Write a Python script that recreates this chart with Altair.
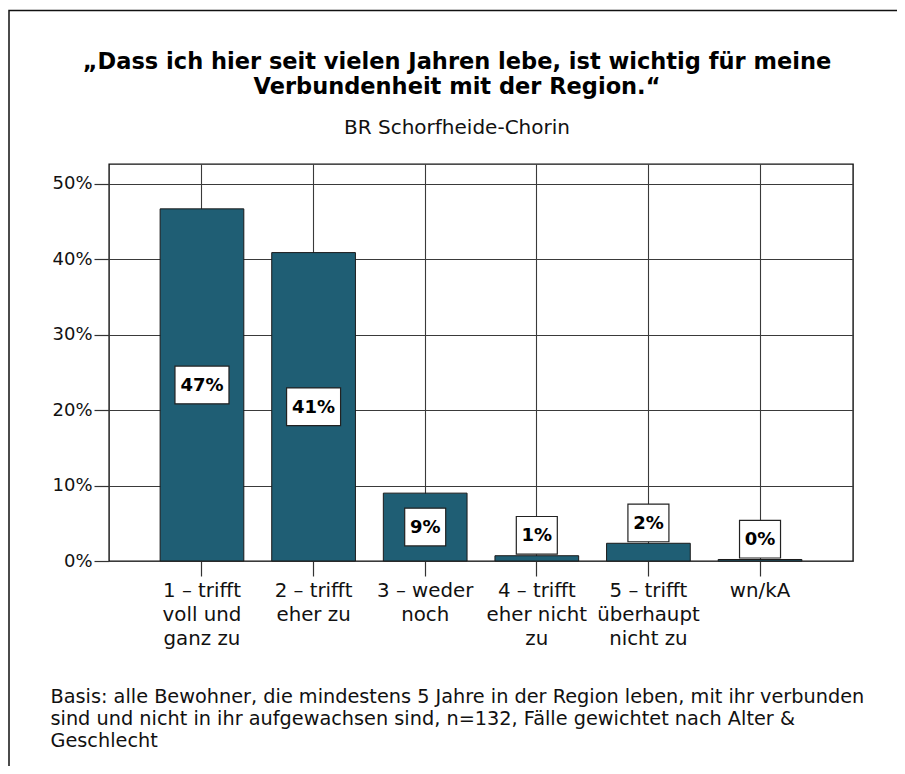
import altair as alt
import pandas as pd

categories = [
    "1 – trifft\nvoll und\nganz zu",
    "2 – trifft\neher zu",
    "3 – weder\nnoch",
    "4 – trifft\neher nicht\nzu",
    "5 – trifft\nüberhaupt\nnicht zu",
    "wn/kA",
]
values = [46.7, 40.9, 9.0, 0.7, 2.35, 0.2]
labels = ["47%", "41%", "9%", "1%", "2%", "0%"]
y_ticks = [0, 10, 20, 30, 40, 50]

title_lines = [
    "„Dass ich hier seit vielen Jahren lebe, ist wichtig für meine",
    "Verbundenheit mit der Region.“",
]
subtitle = "BR Schorfheide-Chorin"
footnote = [
    "Basis: alle Bewohner, die mindestens 5 Jahre in der Region leben, mit ihr verbunden",
    "sind und nicht in ihr aufgewachsen sind, n=132, Fälle gewichtet nach Alter &",
    "Geschlecht",
]

df = pd.DataFrame({"cat": categories, "v": values, "lab": labels})
one = pd.DataFrame({"a": [0]})

FONT = "DejaVu Sans"
BAR = "#1f5e74"

x_enc = alt.X(
    "cat:N",
    sort=categories,
    scale=alt.Scale(paddingInner=0.25, paddingOuter=0.458),
    axis=alt.Axis(
        title=footnote,
        titleFont=FONT,
        titleFontSize=19.3,
        titleFontWeight="normal",
        titleColor="#111",
        titleAlign="left",
        titleAnchor="start",
        titleBaseline="top",
        titleLineHeight=22,
        titleX=-59,
        titleY=126,
        labelExpr="split(datum.label, '\\n')",
        labelAngle=0,
        labelFont=FONT,
        labelFontSize=19.8,
        labelColor="#111",
        labelLineHeight=24,
        labelPadding=4,
        labelAlign="center",
        tickSize=15,
        tickColor="#333",
        tickWidth=1.2,
        grid=True,
        gridColor="#3a3a3a",
        gridWidth=1.1,
        domain=False,
        bandPosition=0.5,
    ),
)

y_scale = alt.Scale(domain=[0, 52.65], nice=False, zero=True)

bars = alt.Chart(df).mark_bar(
    color=BAR, stroke="#1a1a1a", strokeWidth=1
).encode(
    x=x_enc,
    y=alt.Y(
        "v:Q",
        scale=y_scale,
        axis=alt.Axis(
            title=None,
            values=y_ticks,
            labelExpr="datum.value + '%'",
            labelFont=FONT,
            labelFontSize=18,
            labelColor="#111",
            labelPadding=2,
            tickSize=15,
            tickColor="#333",
            tickWidth=1.2,
            grid=True,
            gridColor="#3a3a3a",
            gridWidth=1.1,
            domain=False,
        ),
    ),
)

lab_base = alt.Chart(df).transform_calculate(
    ly="datum.v >= 5 ? datum.v / 2 : datum.v + 2.7",
    ly0="(datum.v >= 5 ? datum.v / 2 : datum.v + 2.7) - 2.5",
    ly1="(datum.v >= 5 ? datum.v / 2 : datum.v + 2.7) + 2.5",
    bw="length(datum.lab) * 13 + 15",
)

boxes = lab_base.mark_bar(fill="white", stroke="#222", strokeWidth=1.2).encode(
    x=alt.X("cat:N", sort=categories),
    y=alt.Y("ly0:Q", scale=y_scale),
    y2="ly1:Q",
    size=alt.Size("bw:Q", scale=None, legend=None),
)

texts = lab_base.mark_text(
    font=FONT, fontSize=18, fontWeight="bold", color="black", baseline="middle", dy=1
).encode(
    x=alt.X("cat:N", sort=categories),
    y=alt.Y("ly:Q", scale=y_scale),
    text="lab:N",
)

title1 = alt.Chart(one).mark_text(
    text=title_lines[0], font=FONT, fontSize=22.5, fontWeight="bold",
    color="black", align="center", baseline="alphabetic"
).encode(x=alt.value(348), y=alt.value(-95))

title2 = alt.Chart(one).mark_text(
    text=title_lines[1], font=FONT, fontSize=22.5, fontWeight="bold",
    color="black", align="center", baseline="alphabetic"
).encode(x=alt.value(348), y=alt.value(-70))

sub = alt.Chart(one).mark_text(
    text=subtitle, font=FONT, fontSize=20, fontWeight="normal",
    color="#111", align="center", baseline="alphabetic"
).encode(x=alt.value(348), y=alt.value(-30))

frame = alt.Chart(one).mark_rect(
    fill="transparent", stroke="#111", strokeWidth=1.5
).encode(
    x=alt.value(-100),
    x2=alt.value(2000),
    y=alt.value(-153.5),
    y2=alt.value(2000),
)

chart = (
    alt.layer(bars, boxes, texts, title1, title2, sub, frame)
    .properties(
        width=744,
        height=397,
        autosize=alt.AutoSizeParams(type="none"),
        padding={"left": 101, "top": 156, "right": 44, "bottom": 205},
    )
    .configure_view(stroke="#111", strokeWidth=1.4)
)

chart.save("out.html", embed_options={"renderer": "svg", "actions": False})
